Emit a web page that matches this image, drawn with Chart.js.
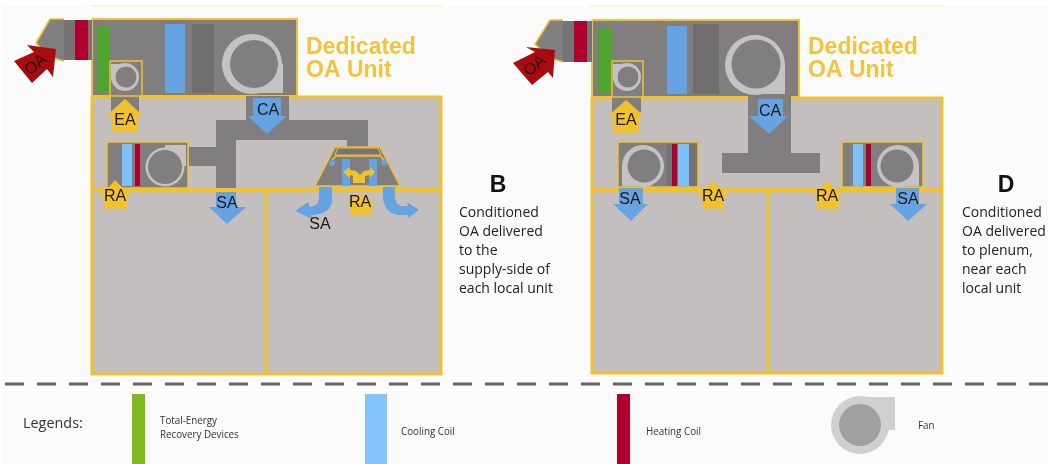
<!DOCTYPE html>
<html>
<head>
<meta charset="utf-8">
<title>Dedicated OA Unit</title>
<script src="https://cdn.jsdelivr.net/npm/chart.js@4/dist/chart.umd.min.js"></script>
<style>
  html, body { margin: 0; padding: 0; background: #fff; }
  canvas { display: block; filter: blur(0.5px); }
</style>
</head>
<body>
<canvas id="diagram" width="1048" height="464"></canvas>
<script>
// colores
const GRAY = '#807e7f', DARK = '#6f6d6e', ROOM = '#c3bfbf', RING = '#c4c2c2';
const YELLOW = '#f2c12e', BLUE = '#66a3e2', LIGHTBLUE = '#7dc1fb', RED = '#b0002e';
const GREEN = '#4fa52f', OARED = '#a80c10';

// --- panel B ---
const hoodB = [[64,19],[50,19],[36,43],[50,57],[64,61]];
const damperB = [64,20,92,60], damperRedB = [75,20,88,60];
const unitB = [92,19,297,96], wheelB = [97,26,110,92];
const coilB = [165,24,185,93], filterB = [192,24,214,93];
const fanBoxB = [110,61,142,96], exhaustB = [111,96,139,112];
const roomB = [92,97,441,374];
const floorB = [[92,190],[441,190]], wallB = [[266,190],[266,374]];
const ductB = [[246,96],[289,96],[289,120],[368,120],[368,147],[347,147],[347,140],[236,140],[236,190],[216,190],[216,166],[189,166],[189,147],[216,147],[216,120],[246,120]];
const localB = [107,142,188,188], localCoolB = [122,144,132,186], localHeatB = [135,144,140,186];
const localOutletB = [165,145,186,166];
const vavB = [[315,186],[335,147],[380,147],[400,186]];
const vavCapB = [[338,148],[378,148],[381,155],[335,155]];
const vavLipB = [[332,160],[336,156],[380,156],[384,160]];
const vavColLB = [342,159,350,186], vavColRB = [369,159,377,186];
const vavSplit = [[353,183],[365,183],[365,176],[370,175],[370,178],[375,172],[370,167],[370,170],[364,171],[360,175],[356,171],[350,170],[350,167],[343,172],[350,178],[350,175],[353,176]];
const curveLB = [[319,187],[332,187],[332,203],[329,209],[323,213],[315,215],[311,215],[312,219],[295,211],[308,202],[310,207],[314,206],[318,203],[319,199]];
const curveRB = [[383,187],[395,187],[395,198],[397,204],[401,206],[408,206],[407,202],[419,210],[408,218],[408,215],[398,215],[391,213],[386,208],[383,200]];

// flechas
const oaB = [[56,49],[27,45],[34,52],[14,61],[32,83],[47,69],[53,77]];
const eaB = [[125,99],[143,116],[138,116],[138,132],[112,132],[112,116],[106,116]];
const caB = [[253,98],[281,98],[281,116],[287,116],[267,134],[248,116],[253,116]];
const saB = [[216,192],[236,192],[236,207],[246,207],[227,224],[209,207],[216,207]];
const raLB = [[115,180],[131,197],[127,197],[127,209],[104,209],[104,197],[100,197]];
const raRB = [[360,194],[376,203],[372,203],[372,215],[350,215],[350,203],[345,203]];

// --- panel D ---
const hoodD = [[563,20],[550,20],[535,44],[550,58],[563,62]];
const damperD = [563,21,592,62], damperRedD = [574,21,587,62];
const unitD = [592,20,799,97], wheelD = [598,28,612,93];
const coilD = [667,26,687,94], filterD = [693,24,719,94];
const fanBoxD = [612,61,643,97], exhaustD = [612,97,641,112];
const roomD = [592,98,942,373];
const floorD = [[592,190],[942,190]], wallD = [[768,190],[768,373]];
const ductD = [[748,96],[791,96],[791,153],[820,153],[820,173],[722,173],[722,153],[748,153]];
const localLD = [618,142,698,187], localLDarkD = [667,144,697,186], localLHeatD = [672,144,677,186], localLCoolD = [678,144,689,186];
const localLOutletD = [622,166,644,186];
const localRD = [842,142,923,187], localRCoolD = [853,144,863,186], localRHeatD = [866,144,871,186];
const localROutletD = [898,166,919,186];
const oaD = [[555,50],[526,47],[535,52],[513,63],[532,85],[548,72],[553,78]];
const eaD = [[626,100],[644,116],[639,116],[639,133],[613,133],[613,116],[608,116]];
const caD = [[758,99],[783,99],[783,116],[788,116],[769,134],[749,116],[758,116]];
const saLD = [[619,188],[643,188],[643,204],[648,204],[631,221],[613,204],[619,204]];
const saRD = [[896,188],[919,188],[919,204],[927,204],[908,221],[890,204],[896,204]];
const raLD = [[713,181],[729,197],[724,197],[724,209],[702,209],[702,197],[697,197]];
const raRD = [[827,181],[843,197],[839,197],[839,209],[817,209],[817,197],[812,197]];

// ventiladores: anillo [x, y, radio] y centro [x, y, radio]
const fanRings = [[252,64,30],[125,77,14],[165,167,19.5],[755,65,30],[627,77,14],[643,166,21],[898,166,21]];
const fanHubs = [[254,64,24],[126,77,10.5],[165,167,17],[756,64,24.5],[628,77,10.5],[644,166,16.5],[897,166,16.5]];
const fanOutlets = [[253,64,283,93],[111,64,125,77],[755,65,785,94],[613,64,627,77]];
const vavDots = [[332,163],[384,163]];

// --- leyenda ---
const divider = [[5,384],[1048,384]];
const legendWheel = [132,394,145,464], legendCool = [365,394,387,464], legendHeat = [617,394,630,464];
const legendOutlet = [860,397,895,430];
const legendFan = [860,425,29,21];

// textos
const labelText = ['EA','CA','SA','RA','RA','SA','EA','CA','SA','SA','RA','RA'];
const labelX = [125,268,227,115,360,320,626,770,630,908,713,827];
const labelY = [121,111,204,197,203,225,121,112,200,200,197,197];
const oaLabelX = [36,535], oaLabelY = [65,66];
const titleX = [306,808];
const titleLines = ['Dedicated','OA Unit'], titleY = [48,70.5];
const panelText = ['B','D'], panelX = [498,1006], panelY = [186,186];
const notesB = ['Conditioned','OA delivered','to the','supply-side of','each local unit'];
const notesD = ['Conditioned','OA delivered','to plenum,','near each','local unit'];
const notesX = [459,962], notesY = [213,232,251,270,289];
const legendText = ['Legends:','Total-Energy','Recovery Devices','Cooling Coil','Heating Coil','Fan'];
const legendX = [23,160,160,401,646,918], legendY = [424,421,435,432,432,426];

const datasets = [];
const box = r => [[r[0],r[1]],[r[2],r[1]],[r[2],r[3]],[r[0],r[3]]];
const toPoints = pts => pts.map(p => ({x: p[0], y: p[1]}));

function shape(pts, fill, stroke, width) {
  const closed = stroke ? pts.concat([pts[0]]) : pts;
  datasets.push({
    data: toPoints(closed), showLine: true, pointRadius: 0, tension: 0, clip: false,
    fill: 'shape', backgroundColor: fill,
    borderColor: stroke || fill, borderWidth: stroke ? width : 0
  });
}
function stroke(pts, color, width, dash) {
  datasets.push({
    data: toPoints(pts), showLine: true, pointRadius: 0, tension: 0, clip: false, fill: false,
    borderColor: color, borderWidth: width, borderDash: dash || []
  });
}
function dot(x, y, r, color) {
  datasets.push({
    data: [{x, y}], pointRadius: r, pointHoverRadius: r, pointBackgroundColor: color,
    pointBorderWidth: 0, showLine: false, clip: false
  });
}

// fondo
shape(box([2,6,1048,464]), '#fbfbfb');
stroke([[90,6],[443,6]], '#fde9b0', 1);
stroke([[590,6],[944,6]], '#fde9b0', 1);

// panel B
shape(hoodB, GRAY); stroke([hoodB[1],hoodB[2],hoodB[3],hoodB[4]], YELLOW, 1.5);
stroke([hoodB[0],hoodB[1]], YELLOW, 1.5);
shape(box(roomB), ROOM, YELLOW, 3);
shape(box(unitB), GRAY, YELLOW, 2);
shape(box(damperB), '#757375'); shape(box(damperRedB), RED);
shape(box(wheelB), GREEN); shape(box(coilB), BLUE); shape(box(filterB), DARK);
shape(box(exhaustB), GRAY);
shape(box(fanBoxB), GRAY, YELLOW, 1.5);
shape(ductB, GRAY);
shape(box(localB), GRAY, YELLOW, 1.5);
shape(box(localCoolB), LIGHTBLUE); shape(box(localHeatB), RED); shape(box(localOutletB), RING);
shape(vavB, GRAY, YELLOW, 1.5);
shape(vavCapB, '#767475', YELLOW, 1);
stroke(vavLipB, YELLOW, 1.5);
shape(box(vavColLB), BLUE); shape(box(vavColRB), BLUE);
stroke(floorB, YELLOW, 4); stroke(wallB, YELLOW, 3);
shape(vavSplit, YELLOW);
shape(curveLB, BLUE); shape(curveRB, BLUE);

// panel D
shape(hoodD, GRAY); stroke([hoodD[1],hoodD[2],hoodD[3],hoodD[4]], YELLOW, 1.5);
stroke([hoodD[0],hoodD[1]], YELLOW, 1.5);
shape(box(roomD), ROOM, YELLOW, 3);
shape(box(unitD), GRAY, YELLOW, 2);
shape(box(damperD), '#757375'); shape(box(damperRedD), RED);
shape(box(wheelD), GREEN); shape(box(coilD), BLUE); shape(box(filterD), DARK);
shape(box(exhaustD), GRAY);
shape(box(fanBoxD), GRAY, YELLOW, 1.5);
shape(ductD, GRAY);
shape(box(localLD), GRAY, YELLOW, 1.5);
shape(box(localLDarkD), '#757375'); shape(box(localLHeatD), RED); shape(box(localLCoolD), LIGHTBLUE); shape(box(localLOutletD), RING);
shape(box(localRD), GRAY, YELLOW, 1.5);
shape(box(localRCoolD), LIGHTBLUE); shape(box(localRHeatD), RED); shape(box(localROutletD), RING);
stroke(floorD, YELLOW, 4); stroke(wallD, YELLOW, 3);

// ventiladores
fanOutlets.forEach(r => shape(box(r), RING));
fanRings.forEach(f => dot(f[0], f[1], f[2], RING));
fanHubs.forEach(f => dot(f[0], f[1], f[2], GRAY));
vavDots.forEach(d => dot(d[0], d[1], 3, BLUE));

// flechas
[oaB, oaD].forEach(a => shape(a, OARED));
[eaB, raLB, raRB, eaD, raLD, raRD].forEach(a => shape(a, YELLOW));
[caB, saB, caD, saLD, saRD].forEach(a => shape(a, BLUE));

// leyenda
stroke(divider, '#666666', 3, [19,13]);
shape(box(legendWheel), '#7fbb1e'); shape(box(legendCool), '#85c4fd'); shape(box(legendHeat), RED);
shape(box(legendOutlet), '#d0d0d0');
dot(legendFan[0], legendFan[1], legendFan[2], '#d0d0d0');
dot(legendFan[0], legendFan[1], legendFan[3], '#a0a0a0');

datasets.forEach((d, i) => { d.order = -i; });

const textPlugin = {
  id: 'diagramText',
  afterDatasetsDraw(chart) {
    const {ctx, scales: {x, y}} = chart;
    const put = (txt, vx, vy, font, color, align, angle, squeeze) => {
      ctx.save();
      ctx.translate(x.getPixelForValue(vx), y.getPixelForValue(vy));
      if (angle) ctx.rotate(angle);
      if (squeeze) ctx.scale(squeeze, 1);
      ctx.font = font;
      ctx.fillStyle = color;
      ctx.textAlign = align || 'left';
      ctx.textBaseline = 'middle';
      ctx.fillText(txt, 0, 0);
      ctx.restore();
    };
    labelText.forEach((t, i) => put(t, labelX[i], labelY[i], '16px "Liberation Sans"', '#1a1a1a', 'center'));
    oaLabelX.forEach((vx, i) => put('OA', vx, oaLabelY[i], '16px "Liberation Sans"', '#2a0505', 'center', -0.7));
    titleX.forEach(vx => titleLines.forEach((t, i) => put(t, vx, titleY[i], 'bold 23px "Liberation Sans"', '#f4c33c')));
    panelText.forEach((t, i) => put(t, panelX[i], panelY[i], 'bold 23px "Liberation Sans"', '#111', 'center'));
    notesY.forEach((vy, i) => {
      put(notesB[i], notesX[0], vy, '14px "Open Sans"', '#222');
      put(notesD[i], notesX[1], vy, '14px "Open Sans"', '#222');
    });
    legendText.forEach((t, i) => {
      put(t, legendX[i], legendY[i], (i === 0 ? '15px' : '11px') + ' "Open Sans"', '#333', 'left', 0, i === 0 ? 0.96 : 0.89);
    });
  }
};

new Chart(document.getElementById('diagram').getContext('2d'), {
  type: 'scatter',
  data: {datasets},
  options: {
    responsive: false,
    animation: false,
    events: [],
    layout: {padding: 0, autoPadding: false},
    scales: {
      x: {type: 'linear', min: 0, max: 1048, display: false},
      y: {type: 'linear', min: 0, max: 464, reverse: true, display: false}
    },
    plugins: {legend: {display: false}, tooltip: {enabled: false}}
  },
  plugins: [textPlugin]
});
</script>
</body>
</html>
